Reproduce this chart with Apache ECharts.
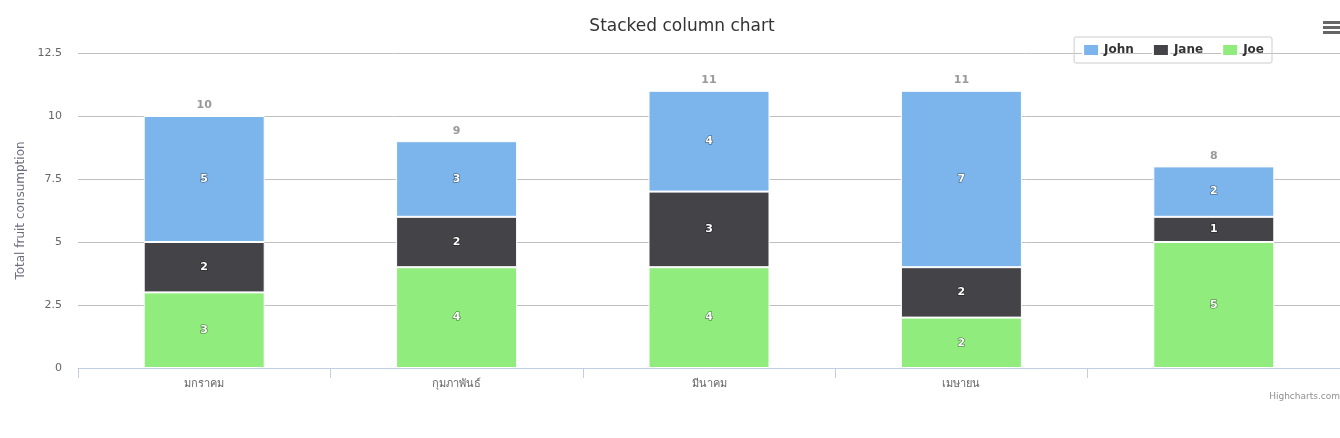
<!DOCTYPE html>
<html>
<head>
<meta charset="utf-8">
<script src="https://cdn.jsdelivr.net/npm/echarts@6/dist/echarts.min.js"></script>
<style>
  html, body { margin: 0; padding: 0; background: #fff; }
  #chart { width: 1340px; height: 438px; }
</style>
</head>
<body>
<div id="chart"></div>
<script>
// 数据
const categories = ['มกราคม', 'กุมภาพันธ์', 'มีนาคม', 'เมษายน', '']
const john = [5, 3, 4, 7, 2]
const jane = [2, 2, 3, 2, 1]
const joe = [3, 4, 4, 2, 5]
const yTicks = [0, 2.5, 5, 7.5, 10, 12.5]

// 堆叠总数
const totals = categories.map((c, i) => john[i] + jane[i] + joe[i])

const fontFamily = '"DejaVu Sans", Verdana, "Noto Sans", sans-serif'

const chart = echarts.init(document.getElementById('chart'))

const innerLabel = {
  show: true,
  position: 'inside',
  color: '#fff',
  fontSize: 11,
  fontWeight: 'bold',
  fontFamily,
  textBorderColor: 'rgba(0,0,0,0.55)',
  textBorderWidth: 1.2
}

function barSeries(name, data, color) {
  return {
    name,
    type: 'bar',
    stack: 'fruit',
    data,
    barWidth: 121,
    itemStyle: { color, borderColor: '#fff', borderWidth: 1 },
    label: innerLabel
  }
}

const option = {
  animation: false,
  textStyle: { fontFamily },
  title: {
    text: 'Stacked column chart',
    left: 677,
    textAlign: 'center',
    top: 13,
    textStyle: { fontSize: 17, fontWeight: 'normal', color: '#333', fontFamily }
  },
  legend: {
    data: ['John', 'Jane', 'Joe'],
    right: 68,
    top: 37,
    itemWidth: 16,
    itemHeight: 12,
    itemGap: 18,
    padding: [6, 8],
    borderColor: '#ccc',
    borderWidth: 1,
    borderRadius: 2,
    icon: 'rect',
    textStyle: { fontSize: 12, fontWeight: 'bold', color: '#333', fontFamily }
  },
  grid: { left: 78, right: 0, top: 53, bottom: 70 },
  xAxis: {
    type: 'category',
    data: categories,
    axisLine: { lineStyle: { color: '#C0D0E0' } },
    axisTick: { show: true, length: 10, interval: 0, lineStyle: { color: '#C0D0E0' } },
    axisLabel: { color: '#666', fontSize: 11, margin: 11, interval: 0, fontFamily }
  },
  yAxis: {
    type: 'value',
    min: 0,
    max: yTicks[yTicks.length - 1],
    interval: yTicks[1] - yTicks[0],
    name: 'Total fruit consumption',
    nameLocation: 'middle',
    nameRotate: 90,
    nameGap: 47,
    nameTextStyle: { fontSize: 12, fontFamily, color: '#6d6d80' },
    axisLabel: { color: '#666', fontSize: 11, margin: 16, fontFamily },
    splitLine: { lineStyle: { color: '#C0C0C0' } }
  },
  // Highcharts 里第一个系列在最上面，所以倒序堆叠
  series: [
    barSeries('Joe', joe, '#90ed7d'),
    barSeries('Jane', jane, '#434348'),
    barSeries('John', john, '#7cb5ec'),
    {
      name: 'total',
      type: 'scatter',
      data: totals,
      symbolSize: 0,
      silent: true,
      label: {
        show: true,
        position: 'top',
        distance: 5,
        color: '#808080',
        fontSize: 11,
        fontWeight: 'bold',
        fontFamily
      }
    }
  ],
  graphic: [
    { type: 'rect', right: 0, top: 21, shape: { width: 17, height: 3 }, style: { fill: '#666' } },
    { type: 'rect', right: 0, top: 26, shape: { width: 17, height: 3 }, style: { fill: '#666' } },
    { type: 'rect', right: 0, top: 31, shape: { width: 17, height: 3 }, style: { fill: '#666' } },
    {
      type: 'text',
      right: 0,
      top: 392,
      style: { text: 'Highcharts.com', fill: '#909090', fontSize: 9, fontFamily }
    }
  ]
}

chart.setOption(option)
</script>
</body>
</html>
